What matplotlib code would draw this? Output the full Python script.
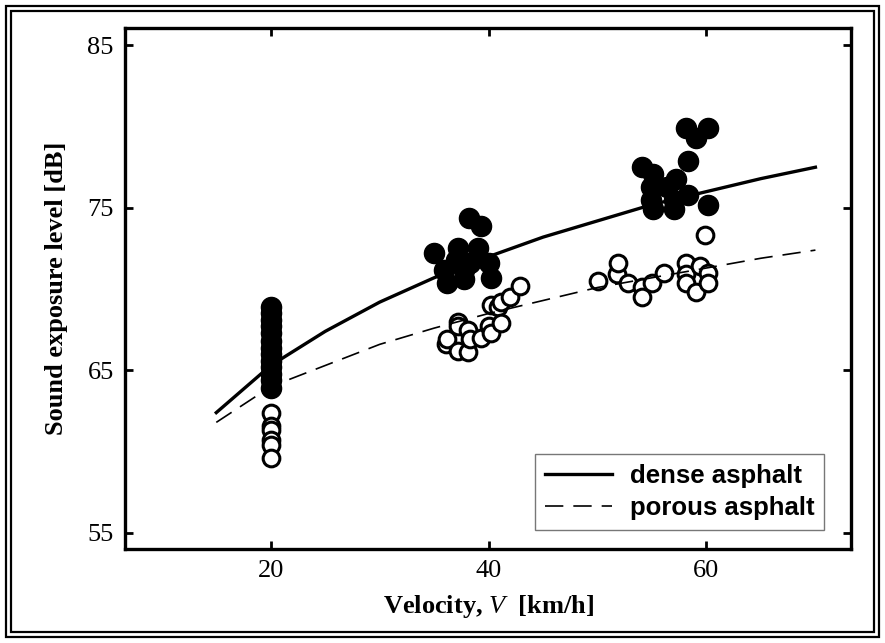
import matplotlib
matplotlib.use('Agg')
import matplotlib.pyplot as plt
from matplotlib.patches import Rectangle

plt.rcParams['font.family'] = ['Liberation Serif', 'DejaVu Serif']
plt.rcParams['mathtext.fontset'] = 'custom'
plt.rcParams['mathtext.it'] = 'Liberation Serif:italic'
plt.rcParams['mathtext.rm'] = 'Liberation Serif'

# regression curves
curve_v = [15, 20, 25, 30, 35, 40, 45, 50, 55, 60, 65, 70]
dense_curve = [62.4, 65.3, 67.4, 69.2, 70.7, 72.0, 73.2, 74.2, 75.2, 76.0, 76.8, 77.5]
porous_curve = [61.8, 64.0, 65.3, 66.6, 67.6, 68.5, 69.3, 70.1, 70.7, 71.3, 71.9, 72.4]

# measured points, dense asphalt (filled)
dense_v = [20, 20, 20, 20, 20, 20, 20, 20, 20, 20, 20, 20, 20,
           35.0, 35.9, 36.2, 37.0, 37.2, 37.7, 37.7, 38.2, 38.3, 39.0, 39.3, 40.0, 40.2,
           54.1, 54.9, 54.9, 55.1, 55.1, 56.4, 57.0, 57.0, 57.2, 58.1, 58.3, 58.3, 59.0, 60.1, 60.1]
dense_sel = [68.9, 68.5, 68.1, 67.7, 67.3, 66.8, 66.4, 66.0, 65.6, 65.2, 64.8, 64.4, 63.9,
             72.2, 71.2, 70.4, 71.8, 72.5, 71.2, 70.6, 74.4, 71.6, 72.5, 73.9, 71.6, 70.7,
             77.5, 76.3, 75.5, 77.1, 74.9, 76.3, 75.5, 74.9, 76.8, 79.9, 77.9, 75.8, 79.3, 79.9, 75.2]

# measured points, porous asphalt (open)
porous_v = [20, 20, 20, 20, 20, 20,
            36.1, 36.2, 37.2, 37.2, 37.2, 38.1, 38.1, 38.3, 39.3, 40.0, 40.2, 40.2, 40.9, 41.1, 41.1, 42.0, 42.9,
            50.0, 51.8, 51.9, 52.8, 54.1, 54.1, 55.0, 56.1, 58.1, 58.1, 58.1, 59.0, 59.4, 59.9, 60.1, 60.1]
porous_sel = [62.4, 61.6, 61.3, 60.7, 60.4, 59.6,
              66.6, 66.9, 68.0, 67.7, 66.2, 67.5, 66.1, 66.9, 67.0, 67.7, 67.3, 69.0, 68.9, 69.2, 67.9, 69.5, 70.2,
              70.5, 70.9, 71.6, 70.4, 70.1, 69.5, 70.4, 71.0, 71.6, 70.9, 70.4, 69.8, 71.4, 73.3, 71.0, 70.4]

fig = plt.figure(figsize=(8.85, 6.43), dpi=100)
ax = fig.add_axes([0.141, 0.146, 0.821, 0.81])

ax.plot(dense_v, dense_sel, 'o', color='black', markersize=14.5, zorder=3)
ax.plot(porous_v, porous_sel, 'o', markerfacecolor='white', markeredgecolor='black',
        markersize=12, markeredgewidth=2.2, zorder=3)
ax.plot(curve_v, dense_curve, '-', color='black', lw=2.4, label='dense asphalt', zorder=4)
ax.plot(curve_v, porous_curve, color='black', lw=1.2, dashes=(11, 6), label='porous asphalt', zorder=4)

ax.set_xlim(6.6, 73.3)
ax.set_ylim(54.0, 86.05)
ax.set_xticks([20, 40, 60])
ax.set_yticks([55, 65, 75, 85])
ax.tick_params(direction='in', length=6, width=2, top=True, right=True, labelsize=19, pad=8)
for s in ax.spines.values():
    s.set_linewidth(2.4)

ax.set_xlabel(r'Velocity, $V$  [km/h]', fontsize=19, fontweight='bold', labelpad=8)
ax.set_ylabel('Sound exposure level [dB]', fontsize=19, fontweight='bold', labelpad=14)

leg = ax.legend(loc='lower right', bbox_to_anchor=(0.963, 0.036), borderaxespad=0,
                frameon=True, fancybox=False, handlelength=2.6, handletextpad=0.7,
                prop={'family': 'Liberation Sans', 'weight': 'bold', 'size': 18.5},
                borderpad=0.4, labelspacing=0.3)
leg.get_frame().set_edgecolor('#555555')
leg.get_frame().set_linewidth(1.0)

# double frame round the picture
W, H = 885, 643
for off in (6, 11):
    fig.patches.append(Rectangle((off / W, off / H), 1 - 2 * off / W, 1 - 2 * off / H,
                                 transform=fig.transFigure, fill=False,
                                 edgecolor='black', lw=1.6))

fig.savefig('out.png', dpi=100)
